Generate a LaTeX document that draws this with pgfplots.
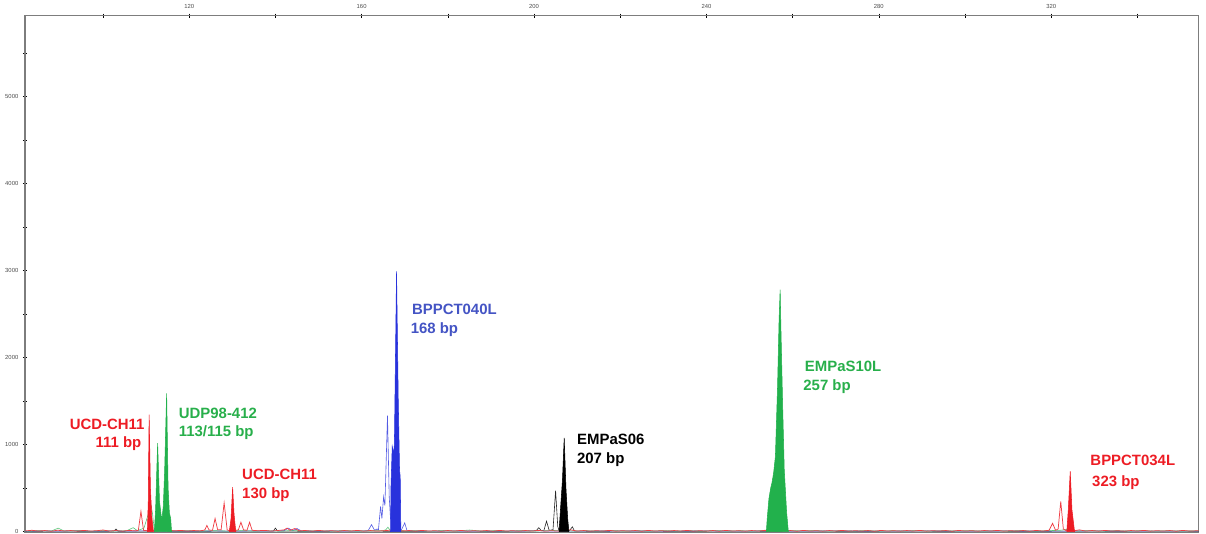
\documentclass[border=0pt]{standalone}
\usepackage{fontspec}
\setmainfont{Liberation Sans}
\usepackage{pgfplots}
\pgfplotsset{compat=1.18}

\definecolor{tred}{RGB}{237,28,36}
\definecolor{tgreen}{RGB}{34,177,76}
\definecolor{tblue}{RGB}{40,50,220}
\definecolor{tbluetxt}{RGB}{68,84,196}
\definecolor{tgreentxt}{RGB}{40,175,75}
\definecolor{framegray}{RGB}{125,125,125}

\newcommand{\lbl}{\fontsize{11.2}{13}\selectfont\bfseries}
\tikzset{lab/.style={anchor=base west, inner sep=0pt, outer sep=0pt, font=\lbl}}

\begin{document}
\begin{tikzpicture}
\begin{axis}[
  name=ax,
  scale only axis,
  width=880.3pt, height=387.9pt,
  xmin=81.9, xmax=354.2, ymin=-15, ymax=5930,
  axis line style={framegray, line width=0.9pt},
  xtick={120,160,200,240,280,320},
  minor xtick={100,140,180,220,260,300,340},
  ytick={0,1000,2000,3000,4000,5000},
  minor ytick={500,1500,2500,3500,4500,5500},
  xtick pos=upper, ytick pos=left,
  xticklabel pos=upper,
  tick align=center,
  major tick length=3pt, minor tick length=3pt,
  tick style={black, line width=0.5pt},
  tick label style={font=\fontsize{4.4}{5}\selectfont, text=black!70},
  /pgf/number format/assume math mode=true,
  /pgf/number format/set thousands separator={},
  clip=true,
]
% ---- black trace
\addplot[black!85, line width=0.45pt] coordinates {
(82,3)(90,6)(98,3)(102.5,5)(103,30)(103.5,4)(110,6)(120,3)(130,6)(139.5,5)(140,40)(140.5,5)
(150,4)(160,6)(170,3)(180,6)(190,4)(198,5)(200.5,10)(201.1,45)(201.7,10)(202.3,15)
(202.9,120)(203.5,15)(204.4,20)(205.0,470)(205.5,60)(205.8,10)(208.2,10)(208.9,55)(209.4,5)
(215,4)(225,6)(235,3)(245,6)(255,4)(265,6)(275,3)(285,6)(295,4)(305,6)(315,3)(325,6)
(335,4)(345,6)(354.2,4)};
% ---- blue trace
\addplot[tblue!80, line width=0.45pt] coordinates {
(82,4)(86,8)(90,5)(94,10)(98,4)(102,8)(106,5)(110,10)(114,4)(118,8)(122,5)(126,8)(130,4)
(134,8)(138,5)(142,10)(143,40)(144,10)(145,35)(146,8)(150,5)(154,8)(158,5)(161.5,10)
(162.3,80)(163.0,15)(163.6,30)(163.9,20)(164.4,290)(164.7,150)(165.1,400)(165.4,300)
(166.0,1333)(166.4,400)(166.7,150)(169.2,15)(170,100)(170.5,15)(172,8)(176,5)(180,8)
(190,5)(200,8)(210,5)(220,8)(230,5)(240,8)(250,5)(256,12)(260,5)(270,8)(280,5)(290,8)
(300,5)(310,8)(320,5)(330,8)(340,5)(354.2,5)};
% ---- green trace
\addplot[tgreen!75, line width=0.45pt] coordinates {
(82,5)(85,10)(88,6)(89.6,40)(91,6)(94,12)(97,5)(100,10)(103,6)(105.5,10)(107,45)(108,10)
(109.5,40)(110.5,200)(111,350)(111.5,200)(111.9,20)(116.1,10)(117.5,8)(120,12)(123,6)
(126,10)(129,5)(132,12)(135,6)(138,10)(141,5)(144,12)(147,6)(150,10)(153,5)(156,12)
(159,6)(162,10)(165,12)(165.6,20)(166.1,50)(166.6,15)(167.5,30)(168.1,140)(168.7,20)
(170,8)(173,10)(176,5)(179,12)(182,6)(185,18)(188,6)(191,10)(194,5)(197,12)(200,6)
(203,10)(206,15)(209,6)(212,10)(215,5)(218,12)(221,6)(224,10)(227,5)(230,12)(233,6)
(236,10)(239,5)(242,12)(245,6)(248,10)(251,5)(253.5,15)(259.3,12)(262,8)(265,12)(268,5)
(271,10)(274,6)(277,12)(280,5)(283,10)(286,6)(289,12)(292,5)(295,10)(298,6)(301,12)
(304,5)(307,10)(310,6)(313,12)(316,5)(319,10)(322,15)(324.4,30)(326,6)(329,12)(332,5)
(335,10)(338,6)(341,12)(344,5)(347,10)(350,6)(354.2,8)};
% ---- red trace
\addplot[tred!85, line width=0.55pt] coordinates {
(82,8)(83.5,15)(85,6)(86.5,12)(88,4)(89.5,16)(91,7)(92.5,12)(94,5)(95.5,14)(97,6)(98.5,10)
(100,18)(101.5,6)(103,12)(104.5,5)(106,14)(107.5,8)(108.2,15)(108.8,233)(109.4,15)(110.2,10)
(111.8,10)(112.5,25)(113.5,15)(115,20)(116.5,8)(118,14)(119.5,6)(121,12)(122.5,8)(123.6,18)
(124.1,70)(124.6,18)(125.4,15)(126,150)(126.6,20)(127.4,20)(128.1,330)(128.8,20)(129.3,10)
(130.8,15)(131.4,20)(132,107)(132.6,20)(133.4,15)(134,107)(134.6,15)(136,10)(137.5,14)
(139,6)(140.5,12)(142,20)(142.7,40)(143.4,15)(144.5,35)(145.5,10)(147,12)(148.5,5)(150,14)
(151.5,6)(153,10)(154.5,4)(156,12)(157.5,6)(159,14)(160.5,5)(162,12)(163.5,6)(165,10)
(166.5,15)(168,20)(169.5,8)(171,12)(172.5,5)(174,14)(175.5,6)(177,10)(178.5,4)(180,12)
(181.5,6)(183,14)(184.5,5)(186,10)(187.5,6)(189,12)(190.5,4)(192,14)(193.5,6)(195,10)
(196.5,5)(198,12)(199.5,6)(201,14)(202.5,5)(204,10)(205.5,6)(207,12)(208.5,20)(210,6)
(211.5,12)(213,5)(214.5,10)(216,6)(217.5,14)(219,5)(220.5,10)(222,6)(223.5,12)(225,4)
(226.5,14)(228,6)(229.5,10)(231,5)(232.5,12)(234,6)(235.5,14)(237,5)(238.5,10)(240,6)
(241.5,12)(243,4)(244.5,14)(246,6)(247.5,10)(249,5)(250.5,12)(252,6)(253.5,14)(255,5)
(256.5,10)(258,6)(259.5,12)(261,4)(262.5,14)(264,6)(265.5,10)(267,5)(268.5,12)(270,6)
(271.5,14)(273,5)(274.5,10)(276,6)(277.5,12)(279,4)(280.5,14)(282,6)(283.5,10)(285,5)
(286.5,12)(288,6)(289.5,14)(291,5)(292.5,10)(294,6)(295.5,12)(297,4)(298.5,14)(300,6)
(301.5,10)(303,5)(304.5,12)(306,6)(307.5,14)(309,5)(310.5,10)(312,6)(313.5,12)(315,4)
(316.5,14)(318,6)(319.5,15)(320.3,95)(321,15)(321.6,30)(322.2,348)(322.8,30)(323.5,10)
(325.4,10)(326.5,20)(328,6)(329.5,12)(331,5)(332.5,14)(334,6)(335.5,10)(337,5)(338.5,12)
(340,6)(341.5,14)(343,5)(344.5,10)(346,6)(347.5,12)(349,4)(350.5,14)(352,6)(354.2,10)};
% ---- filled (called) peaks
\addplot[fill=tgreen, draw=tgreen, line width=0.4pt] coordinates {
(111.9,0)(112.2,250)(112.67,1016)(113.1,350)(113.5,180)(113.7,154)(114.0,300)(114.3,700)
(114.76,1590)(115.1,500)(115.4,215)(115.7,150)(115.9,0)} \closedcycle;
\addplot[fill=tgreen, draw=tgreen, line width=0.4pt] coordinates {
(253.9,0)(254.1,150)(254.5,380)(254.9,500)(255.2,560)(255.6,680)(256.0,865)(256.5,1670)
(256.85,2435)(257.1,2780)(257.25,2400)(257.4,2060)(257.7,1400)(258.05,710)(258.6,220)
(259.0,0)} \closedcycle;
\addplot[fill=tred, draw=tred, line width=0.4pt] coordinates {
(110.3,0)(110.5,350)(110.7,1345)(111.0,500)(111.3,180)(111.7,0)} \closedcycle;
\addplot[fill=tred, draw=tred, line width=0.4pt] coordinates {
(129.3,0)(129.7,150)(130.07,510)(130.4,200)(130.8,0)} \closedcycle;
\addplot[fill=tred, draw=tred, line width=0.4pt] coordinates {
(323.6,0)(323.95,250)(324.4,693)(324.8,250)(325.4,0)} \closedcycle;
\addplot[fill=tblue, draw=tblue, line width=0.4pt] coordinates {
(166.7,0)(166.8,500)(167.1,980)(167.4,900)(167.6,1000)(168.1,2990)(168.5,1500)(168.8,700)
(168.95,635)(169.1,0)} \closedcycle;
\addplot[fill=black, draw=black, line width=0.4pt] coordinates {
(205.8,0)(206.2,300)(206.6,600)(207.0,1076)(207.4,500)(207.8,150)(208.1,0)} \closedcycle;

% ---- labels
\node[lab, text=tred] at (axis cs:92.3,1169) {UCD-CH11};
\node[lab, text=tred] at (axis cs:98.3,966) {111 bp};
\node[lab, text=tgreentxt] at (axis cs:117.6,1303) {UDP98-412};
\node[lab, text=tgreentxt] at (axis cs:117.6,1092) {113/115 bp};
\node[lab, text=tred] at (axis cs:132.3,594) {UCD-CH11};
\node[lab, text=tred] at (axis cs:132.3,376) {130 bp};
\node[lab, text=tbluetxt] at (axis cs:171.7,2491) {BPPCT040L};
\node[lab, text=tbluetxt] at (axis cs:171.4,2272) {168 bp};
\node[lab, text=black] at (axis cs:210.0,997) {EMPaS06};
\node[lab, text=black] at (axis cs:210.0,786) {207 bp};
\node[lab, text=tgreentxt] at (axis cs:262.85,1839) {EMPaS10L};
\node[lab, text=tgreentxt] at (axis cs:262.5,1621) {257 bp};
\node[lab, text=tred] at (axis cs:329.1,757) {BPPCT034L};
\node[lab, text=tred] at (axis cs:329.5,520) {323 bp};
\end{axis}
\pgfresetboundingbox
\path[use as bounding box] ([xshift=-18.75pt,yshift=-0.75pt]ax.south west) rectangle ([xshift=5.5pt,yshift=11.8pt]ax.north east);
\end{tikzpicture}
\end{document}
